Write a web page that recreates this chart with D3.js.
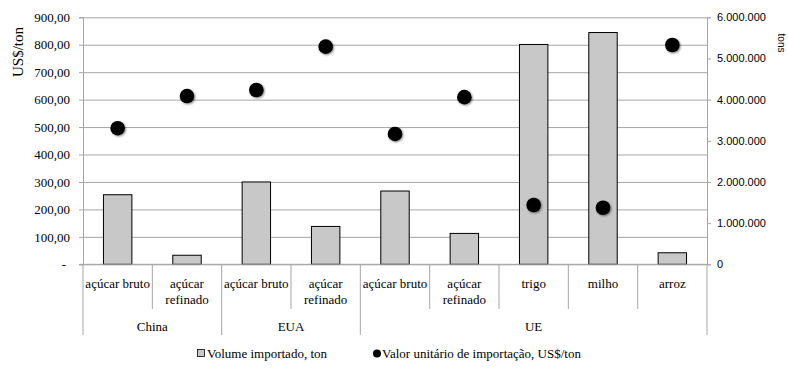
<!DOCTYPE html>
<html>
<head>
<meta charset="utf-8">
<script src="https://cdn.jsdelivr.net/npm/d3@7"></script>
<style>
  body { margin: 0; background: #fff; }
  svg { display: block; }
</style>
</head>
<body>
<div id="chart"></div>
<script>
// Data
const groups = ["China", "EUA", "UE"];
const groupOf = ["China", "China", "EUA", "EUA", "UE", "UE", "UE", "UE", "UE"];
const products = [["açúcar bruto"], ["açúcar", "refinado"], ["açúcar bruto"], ["açúcar", "refinado"],
                  ["açúcar bruto"], ["açúcar", "refinado"], ["trigo"], ["milho"], ["arroz"]];
const volume = [1690000, 220000, 2000000, 920000, 1780000, 750000, 5340000, 5630000, 280000];
const price = [496, 613, 635, 793, 475, 609, 216, 206, 799];
const leftTicks = [0, 100, 200, 300, 400, 500, 600, 700, 800, 900];
const rightTicks = [0, 1000000, 2000000, 3000000, 4000000, 5000000, 6000000];

const W = 788, H = 369;
const plot = {left: 83, right: 707, top: 17.3, bottom: 264.3};
const SERIF = "'Liberation Serif', 'DejaVu Serif', 'Times New Roman', serif";
const SANS = "'Liberation Sans', Arial, sans-serif";

const svg = d3.select("#chart").append("svg")
    .attr("width", W).attr("height", H)
    .attr("font-family", SERIF);

const defs = svg.append("defs");
const f = defs.append("filter").attr("id", "shadow")
    .attr("x", "-50%").attr("y", "-50%").attr("width", "200%").attr("height", "200%");
f.append("feGaussianBlur").attr("in", "SourceAlpha").attr("stdDeviation", 1.2).attr("result", "b");
f.append("feOffset").attr("in", "b").attr("dx", 0.5).attr("dy", 1).attr("result", "o");
f.append("feComponentTransfer").attr("in", "o").attr("result", "s")
  .append("feFuncA").attr("type", "linear").attr("slope", 0.5);
const fm = f.append("feMerge");
fm.append("feMergeNode").attr("in", "s");
fm.append("feMergeNode").attr("in", "SourceGraphic");

const idx = d3.range(products.length);
const x = d3.scaleBand().domain(idx).range([plot.left, plot.right]).padding(0);
const yL = d3.scaleLinear().domain([0, 900]).range([plot.bottom, plot.top]);
const yR = d3.scaleLinear().domain([0, 6000000]).range([plot.bottom, plot.top]);

const loc = d3.formatLocale({decimal: ",", thousands: ".", grouping: [3], currency: ["", ""]});
const fL = loc.format(",.2f"), fR = loc.format(",d");

// gridlines
svg.append("g")
    .attr("transform", `translate(${plot.left},0)`)
    .call(d3.axisLeft(yL).tickValues(leftTicks).tickSize(-(plot.right - plot.left)).tickFormat(""))
    .call(g => g.select(".domain").remove())
    .call(g => g.selectAll("line").attr("stroke", "#a6a6a6").attr("stroke-width", 1));

// left axis
svg.append("g")
    .attr("transform", `translate(${plot.left},0)`)
    .call(d3.axisLeft(yL).tickValues(leftTicks).tickSize(4).tickPadding(9)
        .tickFormat(d => d === 0 ? "-" : fL(d)))
    .attr("font-family", SERIF).attr("font-size", 13)
    .call(g => g.select(".domain").attr("stroke", "#a6a6a6"))
    .call(g => g.selectAll("line").attr("stroke", "#a6a6a6"))
    .call(g => g.selectAll("text").attr("dx", d => d === 0 ? -4 : 0));

// right axis
svg.append("g")
    .attr("transform", `translate(${plot.right},0)`)
    .call(d3.axisRight(yR).tickValues(rightTicks).tickSize(4).tickPadding(6).tickFormat(fR))
    .attr("font-family", SANS).attr("font-size", 11)
    .call(g => g.select(".domain").attr("stroke", "#a6a6a6"))
    .call(g => g.selectAll("line").attr("stroke", "#a6a6a6"));

// bars
const bw = x.bandwidth() * 0.41;
svg.append("g").selectAll("rect")
    .data(idx)
    .join("rect")
    .attr("x", i => x(i) + (x.bandwidth() - bw) / 2)
    .attr("y", i => yR(volume[i]))
    .attr("width", bw)
    .attr("height", i => yR(0) - yR(volume[i]))
    .attr("fill", "#c8c8c8")
    .attr("stroke", "#000")
    .attr("stroke-width", 1);

// bottom axis line
svg.append("line")
    .attr("x1", plot.left - 3).attr("x2", plot.right)
    .attr("y1", plot.bottom).attr("y2", plot.bottom)
    .attr("stroke", "#a6a6a6");

// dots
svg.append("g").selectAll("circle")
    .data(idx)
    .join("circle")
    .attr("cx", i => x(i) + x.bandwidth() / 2)
    .attr("cy", i => yL(price[i]))
    .attr("r", 7.3)
    .attr("fill", "#000")
    .attr("filter", "url(#shadow)");

// category separators
const bounds = d3.range(products.length + 1);
const isGroupEdge = b => b === 0 || b === products.length || groupOf[b] !== groupOf[b - 1];
svg.append("g").selectAll("line")
    .data(bounds)
    .join("line")
    .attr("x1", b => b < products.length ? x(b) : plot.right)
    .attr("x2", b => b < products.length ? x(b) : plot.right)
    .attr("y1", plot.bottom)
    .attr("y2", b => isGroupEdge(b) ? 335 : 309)
    .attr("stroke", "#a6a6a6");

// category labels
const cat = svg.append("g").attr("font-family", SERIF).attr("font-size", 13)
    .selectAll("text")
    .data(idx)
    .join("text")
    .attr("x", i => x(i) + x.bandwidth() / 2)
    .attr("y", 288)
    .attr("text-anchor", "middle");
cat.selectAll("tspan")
    .data(i => products[i].map(t => ({t, cx: x(i) + x.bandwidth() / 2})))
    .join("tspan")
    .attr("x", d => d.cx)
    .attr("dy", (d, j) => j === 0 ? 0 : 16)
    .text(d => d.t);

// group labels
svg.append("g").attr("font-family", SERIF).attr("font-size", 13)
    .selectAll("text")
    .data(groups)
    .join("text")
    .attr("x", g => {
        const ids = idx.filter(i => groupOf[i] === g);
        return (x(ids[0]) + x(ids[ids.length - 1]) + x.bandwidth()) / 2;
    })
    .attr("y", 331)
    .attr("text-anchor", "middle")
    .text(g => g);

// axis titles
svg.append("text")
    .attr("transform", "translate(23,52) rotate(-90)")
    .attr("text-anchor", "middle")
    .attr("font-family", SERIF).attr("font-size", 15)
    .text("US$/ton");
svg.append("text")
    .attr("transform", "translate(778,43) rotate(90)")
    .attr("text-anchor", "middle")
    .attr("font-family", SANS).attr("font-size", 10)
    .text("tons");

// legend
const lg = svg.append("g").attr("font-family", SERIF).attr("font-size", 13);
lg.append("rect").attr("x", 197.5).attr("y", 349.5).attr("width", 7).attr("height", 7)
    .attr("fill", "#c8c8c8").attr("stroke", "#000").attr("stroke-width", 0.8);
lg.append("text").attr("x", 207).attr("y", 358).text("Volume importado, ton");
lg.append("circle").attr("cx", 377).attr("cy", 353.5).attr("r", 4).attr("fill", "#000");
lg.append("text").attr("x", 382).attr("y", 358).text("Valor unitário de importação, US$/ton");
</script>
</body>
</html>
